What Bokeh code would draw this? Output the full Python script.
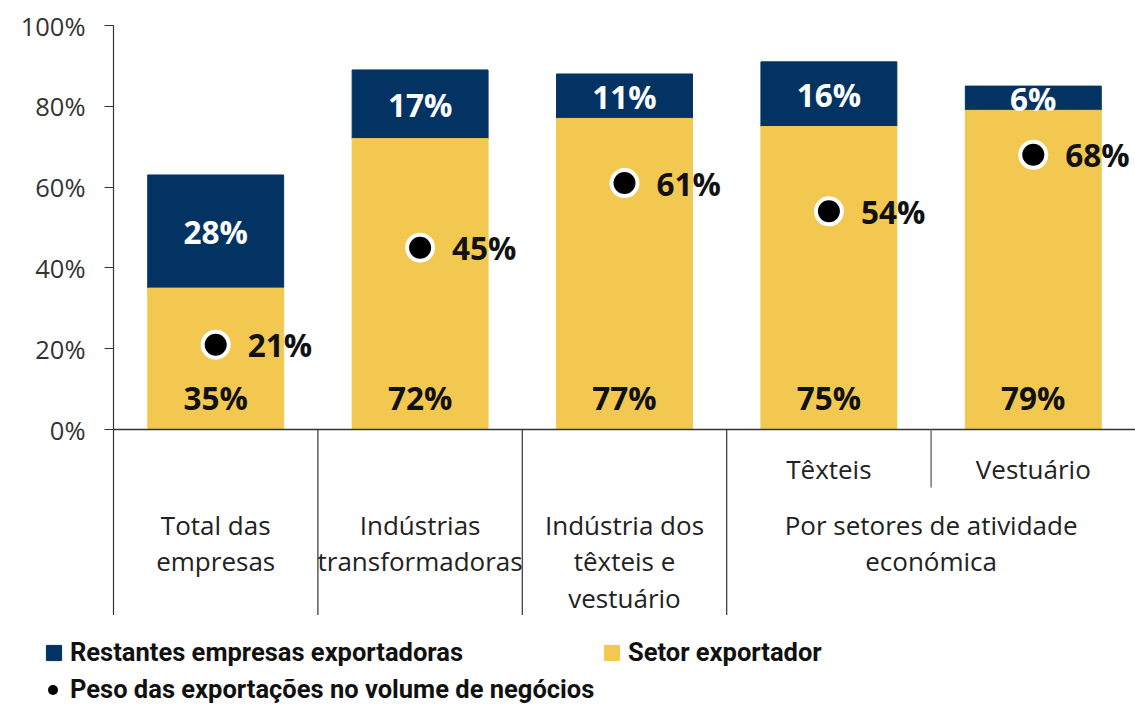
from bokeh.plotting import figure
from bokeh.layouts import column
from bokeh.models import Range1d, FixedTicker, PrintfTickFormatter, ColumnDataSource, Legend, LegendItem
from bokeh.core.properties import value
from bokeh.embed import file_html
from bokeh.resources import INLINE

# ---- data ----
categories = ["Total das empresas", "Indústrias transformadoras",
              "Indústria dos têxteis e vestuário", "Têxteis", "Vestuário"]
setor = [35, 72, 77, 75, 79]          # Setor exportador
restantes = [28, 17, 11, 16, 6]       # Restantes empresas exportadoras
peso = [21, 45, 61, 54, 68]           # Peso das exportações no volume de negócios
sub_labels = ["", "", "", "Têxteis", "Vestuário"]
group_labels = [["Total das", "empresas"],
                ["Indústrias", "transformadoras"],
                ["Indústria dos", "têxteis e", "vestuário"],
                ["Por setores de atividade", "económica"]]
group_spans = [1, 1, 1, 2]
y_ticks = [0, 20, 40, 60, 80, 100]

NAVY = "#033363"
YELLOW = "#F3C851"
FONT = "Open Sans"
LFONT = "Roboto"

# scale: 0 -> y=429 px, 100 -> y=25 px ; frame bottom at 615 px
PX = 4.04
Y_MIN = -(615 - 429) / PX
SUB_SEP_BOTTOM = -(487 - 429) / PX

n = len(categories)
xc = [i + 0.5 for i in range(n)]
top = [a + b for a, b in zip(setor, restantes)]

p = figure(width=1135, height=615, output_backend="svg", toolbar_location=None,
           x_range=Range1d(0, n), y_range=Range1d(Y_MIN, 100),
           min_border_left=113, min_border_right=0, min_border_top=25, min_border_bottom=0)
p.outline_line_color = None
p.grid.visible = False
p.xaxis.visible = False

ax = p.yaxis[0]
ax.ticker = FixedTicker(ticks=y_ticks)
ax.formatter = PrintfTickFormatter(format="%d%%")
ax.axis_line_color = "#333333"
ax.axis_line_width = 1.2
ax.major_tick_line_color = "#333333"
ax.major_tick_out = 9
ax.major_tick_in = 0
ax.minor_tick_line_color = None
ax.major_label_text_font = FONT
ax.major_label_text_font_size = "25.5px"
ax.major_label_text_color = "#333333"
ax.major_label_standoff = 19

src = ColumnDataSource(dict(x=xc, setor=setor, restantes=restantes, top=top, peso=peso,
                            ls=[f"{v}%" for v in setor], lr=[f"{v}%" for v in restantes],
                            lp=[f"{v}%" for v in peso],
                            ysl=[8] * n,
                            yrl=[s + r / 2 for s, r in zip(setor, restantes)]))

bar_res = dict(x="x", top="top", bottom="setor", width=0.665, color=NAVY, source=src)
bar_set = dict(x="x", top="setor", bottom=0, width=0.665, color=YELLOW, source=src)
dots = dict(x="x", y="peso", source=src, size=26, fill_color="black")

p.vbar(**bar_res)
p.vbar(**bar_set)

# baseline / separators
p.segment(x0=[0], y0=[0], x1=[n], y1=[0], line_color="#333333", line_width=1.5)
bounds = []
acc = 0
for s in group_spans[:-1]:
    acc += s
    bounds.append(acc)
p.segment(x0=bounds, y0=[0] * len(bounds), x1=bounds, y1=[Y_MIN] * len(bounds),
          line_color="#333333", line_width=1.2)
p.segment(x0=[4], y0=[0], x1=[4], y1=[SUB_SEP_BOTTOM], line_color="#777777", line_width=1.5)

# value labels
p.text(x="x", y="ysl", text="ls", source=src, text_align="center", text_baseline="middle",
       text_font=value(FONT), text_font_style="bold", text_font_size="31.5px", text_color="#111111")
p.text(x="x", y="yrl", text="lr", source=src, text_align="center", text_baseline="middle",
       text_font=value(FONT), text_font_style="bold", text_font_size="31.5px", text_color="white")

p.scatter(**dots, line_color="white", line_width=4)
p.text(x="x", y="peso", text="lp", source=src, text_align="left", text_baseline="middle",
       x_offset=32, text_font=value(FONT), text_font_style="bold", text_font_size="31.5px",
       text_color="#111111")

# category labels
sub_x = [xc[i] for i in range(n) if sub_labels[i]]
sub_t = [t for t in sub_labels if t]
p.text(x=sub_x, y=[-(468 - 429) / PX] * len(sub_x), text=sub_t, text_align="center",
       text_baseline="middle", text_font=value(FONT), text_font_size="26px", text_color="#222222")

gx, gy, gt = [], [], []
acc = 0
for lines, s in zip(group_labels, group_spans):
    c = acc + s / 2
    acc += s
    for j, ln in enumerate(lines):
        gx.append(c)
        gy.append(-(524 - 429 + j * 36.5) / PX)
        gt.append(ln)
p.text(x=gx, y=gy, text=gt, text_align="center", text_baseline="middle",
       text_font=value(FONT), text_font_size="26px", text_color="#222222")

# ---- legend strip (same glyph specs, hidden; legend keys only) ----
q = figure(width=1135, height=89, output_backend="svg", toolbar_location=None,
           x_range=Range1d(0, n), y_range=Range1d(Y_MIN, 100),
           min_border_left=0, min_border_right=0, min_border_top=0, min_border_bottom=0)
q.outline_line_color = None
q.axis.visible = False
q.grid.visible = False
frame_left = 0
if hasattr(q, "frame_align"):
    q.frame_align = False
    p.frame_align = False
else:
    frame_left = 113
l_res = q.vbar(**bar_res, visible=False)
l_set = q.vbar(**bar_set, visible=False)
l_dot = q.scatter(**dots, line_color=None, visible=False)

common = dict(orientation="horizontal", label_text_font=LFONT, label_text_font_style="bold",
              label_text_font_size="25.5px", label_text_color="#111111",
              padding=0, margin=0, spacing=0,
              border_line_color=None, background_fill_alpha=0,
              inactive_fill_alpha=0, click_policy="none")

for label, rend, xpx, ypx, g, st in [("Restantes empresas exportadoras", l_res, 44, 37, 19, 7),
                                     ("Setor exportador", l_set, 602, 37, 19, 7),
                                     ("Peso das exportações no volume de negócios", l_dot, 40, 0, 25, 5)]:
    q.add_layout(Legend(items=[LegendItem(label=label, renderers=[rend])],
                        location=(xpx - frame_left, ypx), glyph_width=g, glyph_height=g,
                        label_height=g, label_standoff=st, **common), "center")

layout = column(p, q, spacing=0)
open("out.html", "w").write(file_html(layout, INLINE))
